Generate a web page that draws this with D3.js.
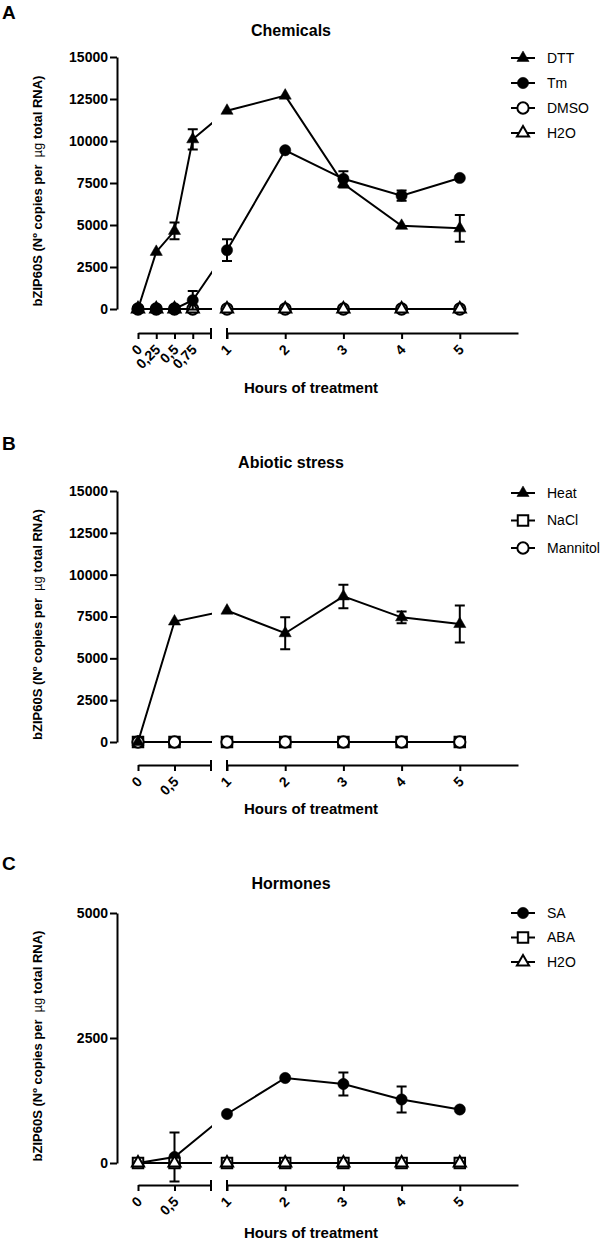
<!DOCTYPE html>
<html>
<head>
<meta charset="utf-8">
<script src="https://cdn.jsdelivr.net/npm/d3@7"></script>
<style>
  body { margin: 0; background: #fff; }
  text { font-family: "Liberation Sans", Arial, sans-serif; }
</style>
</head>
<body>
<script>
// ---- data ----
const hoursA = [0, 0.25, 0.5, 0.75, 1, 2, 3, 4, 5];
const xTickLabelsA = ["0", "0,25", "0,5", "0,75", "1", "2", "3", "4", "5"];
const dttMean = [0, 3400, 4650, 10100, 11800, 12700, 7450, 4950, 4800];
const dttErr = [0, 0, 500, 600, 0, 0, 220, 0, 800];
const tmMean = [0, 0, 0, 520, 3500, 9450, 7750, 6750, 7800];
const tmErr = [0, 0, 0, 550, 650, 0, 450, 300, 0];
const dmsoMean = [0, 0, 0, 0, 0, 0, 0, 0, 0];
const h2oMeanA = [0, 0, 0, 0, 0, 0, 0, 0, 0];

const hoursB = [0, 0.5, 1, 2, 3, 4, 5];
const xTickLabelsB = ["0", "0,5", "1", "2", "3", "4", "5"];
const heatMean = [0, 7200, 7850, 6500, 8700, 7450, 7050];
const heatErr = [0, 0, 0, 950, 700, 350, 1100];
const naclMean = [0, 0, 0, 0, 0, 0, 0];
const mannitolMean = [0, 0, 0, 0, 0, 0, 0];

const hoursC = [0, 0.5, 1, 2, 3, 4, 5];
const saMean = [0, 120, 980, 1700, 1580, 1270, 1070];
const saErr = [0, 490, 0, 0, 230, 260, 0];
const abaMean = [0, 0, 0, 0, 0, 0, 0];
const h2oMeanC = [0, 0, 0, 0, 0, 0, 0];

const yTicksAB = [0, 2500, 5000, 7500, 10000, 12500, 15000];
const yTicksC = [0, 2500, 5000];

const svg = d3.select("body").append("svg")
  .attr("width", 601)
  .attr("height", 1243);

const yLabel = "bZIP60S (N\u00BA copies per";

function marker(type, open) {
  const sym = {tri: d3.symbolTriangle, circle: d3.symbolCircle, square: d3.symbolSquare}[type];
  const size = {tri: 64, circle: 100, square: 110}[type];
  return {path: d3.symbol(sym, size)(), fill: open ? "#fff" : "#000"};
}

function drawPanel(p, idx) {
  const g = svg.append("g");
  const y = d3.scaleLinear().domain([0, p.yMax]).range([p.y0, p.y1]);
  const xL = d3.scaleLinear().domain([0, 1]).range([138, 211]);
  const xR = d3.scaleLinear().domain([1, 6]).range([227, 518]);
  const x = v => v < 1 ? xL(v) : xR(v);

  // panel letter and title
  g.append("text").attr("x", 2).attr("y", p.letterY).attr("dy", "0.35em")
    .style("font-size", "19px").style("font-weight", "bold").text(p.letter);
  g.append("text").attr("x", 291).attr("y", p.titleY).attr("dy", "0.35em")
    .attr("text-anchor", "middle")
    .style("font-size", "16px").style("font-weight", "bold").text(p.title);

  // y axis
  const ya = g.append("g").attr("transform", "translate(117,0)")
    .call(d3.axisLeft(y).tickValues(p.yTicks).tickFormat(d3.format("d"))
      .tickSize(7).tickSizeOuter(0).tickPadding(2));
  ya.selectAll("path, line").attr("stroke", "#000").attr("stroke-width", 2);
  ya.selectAll("text").style("font-size", "14px").style("font-weight", "bold")
    .attr("fill", "#000").style("font-family", "Liberation Sans, Arial, sans-serif");

  const yl = g.append("text")
    .attr("transform", `translate(37,${(p.y0 + p.y1) / 2 + 8}) rotate(-90)`)
    .attr("text-anchor", "middle").attr("dy", "0.35em")
    .style("font-size", "13px").style("font-weight", "bold");
  yl.append("tspan").text(yLabel);
  yl.append("tspan").attr("dx", 7).style("font-weight", "normal").text("\u00B5g");
  yl.append("tspan").text(" total RNA)");

  // broken x axis
  function styleX(sel) {
    sel.selectAll("path, line").attr("stroke", "#000").attr("stroke-width", 2);
    sel.selectAll("text")
      .attr("text-anchor", "end").attr("x", 0).attr("y", 0).attr("dy", "0.35em")
      .attr("transform", "translate(1,14) rotate(-45)")
      .style("font-size", "14px").style("font-weight", "bold").attr("fill", "#000")
      .style("font-family", "Liberation Sans, Arial, sans-serif");
  }
  const leftTicks = p.hours.filter(h => h < 1);
  const rightTicks = p.hours.filter(h => h >= 1);
  const lab = d3.scaleOrdinal().domain(p.hours).range(p.tickLabels);
  const xa1 = g.append("g").attr("transform", `translate(0,${p.xAxisY})`)
    .call(d3.axisBottom(xL).tickValues(leftTicks).tickFormat(lab).tickSizeInner(6).tickSizeOuter(0));
  styleX(xa1);
  const xa2 = g.append("g").attr("transform", `translate(0,${p.xAxisY})`)
    .call(d3.axisBottom(xR).tickValues(rightTicks).tickFormat(lab).tickSizeInner(6).tickSizeOuter(0));
  styleX(xa2);
  [xL(1), xR(1)].forEach(cx => {
    g.append("line").attr("x1", cx).attr("x2", cx)
      .attr("y1", p.xAxisY - 5).attr("y2", p.xAxisY + 6)
      .attr("stroke", "#000").attr("stroke-width", 2);
  });

  g.append("text").attr("x", 311).attr("y", p.hoursY).attr("dy", "0.35em")
    .attr("text-anchor", "middle")
    .style("font-size", "15px").style("font-weight", "bold").text("Hours of treatment");

  // clip so lines are broken in the axis gap
  const clipId = "clip" + idx;
  const cp = svg.append("clipPath").attr("id", clipId);
  cp.append("rect").attr("x", 100).attr("y", 0).attr("width", 112).attr("height", 1243);
  cp.append("rect").attr("x", 226).attr("y", 0).attr("width", 300).attr("height", 1243);

  const line = d3.line().x(d => x(d.h)).y(d => y(d.m));

  p.series.forEach(s => {
    const pts = p.hours.map((h, i) => ({h: h, m: s.mean[i], e: s.err ? s.err[i] : 0}));
    g.append("path").datum(pts).attr("d", line)
      .attr("clip-path", `url(#${clipId})`)
      .attr("fill", "none").attr("stroke", "#000").attr("stroke-width", 2);
    pts.filter(d => d.e > 0).forEach(d => {
      const cx = x(d.h);
      g.append("path")
        .attr("d", `M${cx},${y(d.m - d.e)}V${y(d.m + d.e)}M${cx - 5},${y(d.m + d.e)}H${cx + 5}M${cx - 5},${y(d.m - d.e)}H${cx + 5}`)
        .attr("fill", "none").attr("stroke", "#000").attr("stroke-width", 2);
    });
    const mk = marker(s.symbol, s.open);
    g.selectAll(null).data(pts).enter().append("path")
      .attr("d", mk.path)
      .attr("transform", d => `translate(${x(d.h)},${y(d.m)})`)
      .attr("fill", mk.fill).attr("stroke", "#000").attr("stroke-width", s.open ? 2 : 0.5);
  });

  // legend
  p.legend.forEach((s, i) => {
    const ly = p.legendY + i * p.legendStep;
    const mk = marker(s.symbol, s.open);
    g.append("line").attr("x1", 511).attr("x2", 535).attr("y1", ly).attr("y2", ly)
      .attr("stroke", "#000").attr("stroke-width", 2);
    g.append("path").attr("d", mk.path).attr("transform", `translate(523,${ly})`)
      .attr("fill", mk.fill).attr("stroke", "#000").attr("stroke-width", s.open ? 2 : 0.5);
    g.append("text").attr("x", 547).attr("y", ly).attr("dy", "0.35em")
      .style("font-size", "14px").text(s.name);
  });
}

const dtt = {name: "DTT", symbol: "tri", open: false, mean: dttMean, err: dttErr};
const tm = {name: "Tm", symbol: "circle", open: false, mean: tmMean, err: tmErr};
const dmso = {name: "DMSO", symbol: "circle", open: true, mean: dmsoMean};
const h2oA = {name: "H2O", symbol: "tri", open: true, mean: h2oMeanA};
const heat = {name: "Heat", symbol: "tri", open: false, mean: heatMean, err: heatErr};
const nacl = {name: "NaCl", symbol: "square", open: true, mean: naclMean};
const mannitol = {name: "Mannitol", symbol: "circle", open: true, mean: mannitolMean};
const sa = {name: "SA", symbol: "circle", open: false, mean: saMean, err: saErr};
const aba = {name: "ABA", symbol: "square", open: true, mean: abaMean};
const h2oC = {name: "H2O", symbol: "tri", open: true, mean: h2oMeanC};

const panels = [
  {letter: "A", letterY: 12, title: "Chemicals", titleY: 30, yMax: 15000, yTicks: yTicksAB,
   y0: 309, y1: 57, xAxisY: 333, hoursY: 388, hours: hoursA, tickLabels: xTickLabelsA,
   series: [dmso, h2oA, tm, dtt], legend: [dtt, tm, dmso, h2oA], legendY: 58, legendStep: 25},
  {letter: "B", letterY: 443, title: "Abiotic stress", titleY: 462, yMax: 15000, yTicks: yTicksAB,
   y0: 742, y1: 491, xAxisY: 765, hoursY: 809, hours: hoursB, tickLabels: xTickLabelsB,
   series: [nacl, mannitol, heat], legend: [heat, nacl, mannitol], legendY: 493, legendStep: 27.5},
  {letter: "C", letterY: 863, title: "Hormones", titleY: 883, yMax: 5000, yTicks: yTicksC,
   y0: 1163, y1: 913, xAxisY: 1185, hoursY: 1233, hours: hoursC, tickLabels: xTickLabelsB,
   series: [sa, aba, h2oC], legend: [sa, aba, h2oC], legendY: 913, legendStep: 24.5}
];

panels.forEach(drawPanel);
</script>
</body>
</html>
